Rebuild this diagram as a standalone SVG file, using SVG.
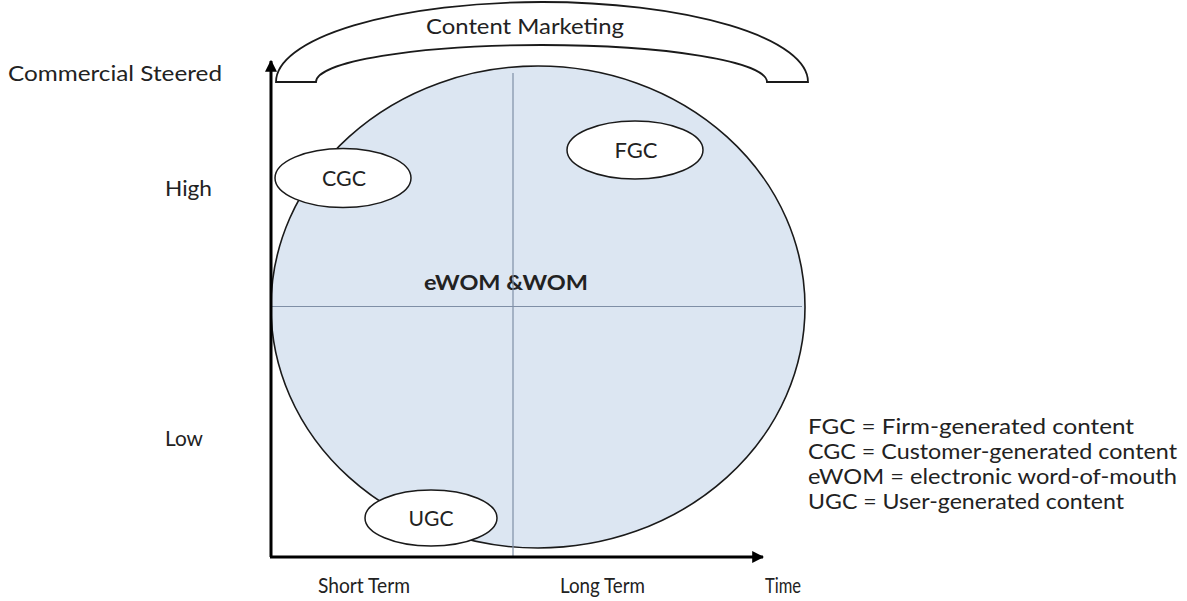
<svg xmlns="http://www.w3.org/2000/svg" width="1187" height="601" viewBox="0 0 1187 601">
<style>
text{font-family:Lato,"Liberation Sans",sans-serif;fill:#222;font-size:21px}
.node{fill:#fff;stroke:#1a1a1a;stroke-width:1.5}
.grid{stroke:#7f8fa6;stroke-width:1.2;fill:none}
.axis{stroke:#000;stroke-width:3;fill:none}
.lbl{text-anchor:middle}
</style>
<defs>
<marker id="arr" viewBox="0 0 10 10" refX="9" refY="5" markerWidth="4" markerHeight="4" orient="auto" markerUnits="strokeWidth">
<path d="M0,0 L10,5 L0,10 z" fill="#000"/>
</marker>
</defs>
<rect width="1187" height="601" fill="#fff"/>
<g id="content-marketing">
<path d="M276,82 A266,80 0 0 1 808,82 L767,82 A225.5,37 0 0 0 316,82 Z" fill="#fff" stroke="#1a1a1a" stroke-width="1.8"/>
<text x="525" y="34" class="lbl" font-size="22" textLength="198" lengthAdjust="spacingAndGlyphs">Content Marketing</text>
</g>
<g id="ewom">
<ellipse cx="538" cy="307" rx="267" ry="241" fill="#dce6f2" stroke="#1a1a1a" stroke-width="1.6"/>
<text x="506" y="290" class="lbl" font-size="21" font-weight="bold" textLength="164" lengthAdjust="spacingAndGlyphs">eWOM &amp;WOM</text>
</g>
<g id="connectors">
<line class="grid" x1="513" y1="73" x2="513" y2="557"/>
<line class="grid" x1="272" y1="306.5" x2="802" y2="306.5"/>
<line class="axis" x1="271" y1="557" x2="271" y2="61" marker-end="url(#arr)"/>
<line class="axis" x1="270" y1="557" x2="763" y2="557" marker-end="url(#arr)"/>
</g>
<g id="cgc">
<ellipse class="node" cx="343" cy="178" rx="68" ry="29.5"/>
<text x="344" y="186" class="lbl" font-size="22" textLength="44" lengthAdjust="spacingAndGlyphs">CGC</text>
</g>
<g id="fgc">
<ellipse class="node" cx="635" cy="150" rx="68" ry="29"/>
<text x="636" y="158" class="lbl" font-size="22" textLength="43" lengthAdjust="spacingAndGlyphs">FGC</text>
</g>
<g id="ugc">
<ellipse class="node" cx="431" cy="518" rx="66" ry="28"/>
<text x="431" y="526" class="lbl" font-size="22" textLength="45" lengthAdjust="spacingAndGlyphs">UGC</text>
</g>
<g id="labels">
<text x="8" y="81" textLength="214" lengthAdjust="spacingAndGlyphs">Commercial Steered</text>
<text x="165" y="196" textLength="47" lengthAdjust="spacingAndGlyphs">High</text>
<text x="165" y="446" textLength="38" lengthAdjust="spacingAndGlyphs">Low</text>
<text x="318" y="593" font-size="20" textLength="92" lengthAdjust="spacingAndGlyphs">Short Term</text>
<text x="560" y="593" font-size="20" textLength="85" lengthAdjust="spacingAndGlyphs">Long Term</text>
<text x="765" y="593" font-size="20" textLength="36" lengthAdjust="spacingAndGlyphs">Time</text>
</g>
<g id="legend">
<text x="808" y="434" font-size="22" textLength="326" lengthAdjust="spacingAndGlyphs">FGC = Firm-generated content</text>
<text x="808" y="459" font-size="22" textLength="369" lengthAdjust="spacingAndGlyphs">CGC = Customer-generated content</text>
<text x="808" y="484" font-size="22" textLength="369" lengthAdjust="spacingAndGlyphs">eWOM = electronic word-of-mouth</text>
<text x="808" y="509" font-size="22" textLength="316" lengthAdjust="spacingAndGlyphs">UGC = User-generated content</text>
</g>
</svg>
